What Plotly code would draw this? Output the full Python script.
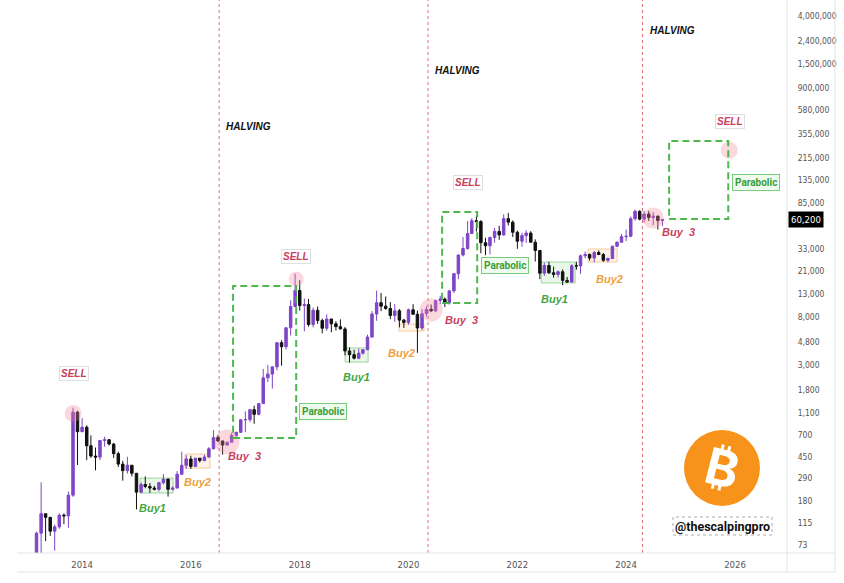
import numpy as np
import pandas as pd
import plotly.graph_objects as go
from datetime import datetime, timedelta

# ---------------- data (monthly BTC candles, Mar 2013 - Sep 2024) ----------------
months = pd.date_range("2013-03-01", "2024-09-01", freq="MS")

open_ = [34, 93, 139, 129, 97, 106, 135, 133, 204, 1130,
         755, 830, 565, 457, 447, 630, 640, 585, 480, 387, 338, 378,
         320, 217, 254, 244, 236, 230, 264, 284, 230, 236, 314, 377,
         430, 369, 437, 416, 448, 531, 670, 624, 573, 608, 700, 745,
         965, 970, 1190, 1080, 1350, 2300, 2480, 2875, 4740, 4360, 6450, 10000,
         13900, 10200, 10400, 6900, 9250, 7500, 6390, 7730, 7000, 6600, 6300, 4000,
         3700, 3440, 3820, 4100, 5320, 8570, 10820, 10080, 9600, 8300, 9150, 7550,
         7200, 9350, 8530, 6420, 8620, 9450, 9140, 11350, 11650, 10780, 13800, 19700,
         28950, 33100, 45100, 58800, 57700, 37300, 35000, 41500, 47100, 43800, 61300, 57000,
         46300, 38500, 43200, 45500, 37700, 31800, 19900, 23300, 20050, 19400, 20500, 17150,
         16550, 23150, 23130, 28500, 29250, 27200, 30500, 29250, 25950, 26950, 34650, 37700,
         42300, 42600, 61100, 71300, 60650, 67500, 62700, 64600, 58970]
high = [96, 266, 140, 129, 111, 140, 140, 220, 1242, 1165,
        1000, 860, 700, 545, 630, 680, 650, 600, 500, 415, 450, 380,
        320, 265, 300, 262, 247, 268, 315, 285, 245, 335, 500, 465,
        460, 440, 440, 470, 550, 780, 705, 627, 615, 740, 755, 975,
        1150, 1200, 1290, 1350, 2760, 3000, 2920, 4750, 4990, 6470, 11400, 19700,
        17200, 11800, 11700, 9800, 9990, 7780, 8500, 7760, 7400, 7680, 6550, 4300,
        4100, 4200, 4130, 5600, 9100, 13880, 13200, 12300, 10950, 10500, 9500, 7750,
        9600, 10500, 9200, 9470, 10080, 10430, 11450, 12470, 12050, 14100, 19900, 29300,
        41950, 58300, 61800, 64900, 59500, 41300, 42400, 50500, 52900, 67000, 69000, 59100,
        47900, 45800, 48200, 47400, 40000, 31900, 24700, 25200, 22800, 21000, 21450, 18400,
        23950, 25250, 29200, 31000, 29850, 31400, 31800, 30200, 27500, 35200, 38400, 44700,
        48950, 64000, 73800, 72800, 71950, 71900, 70000, 65100, 60600]
low = [33, 50, 79, 88, 65, 102, 112, 104, 197, 380,
       750, 420, 440, 340, 420, 555, 570, 440, 365, 275, 318, 300,
       152, 212, 235, 214, 225, 220, 255, 198, 225, 235, 310, 350,
       350, 365, 400, 410, 440, 525, 610, 470, 570, 605, 680, 740,
       750, 920, 890, 1060, 1350, 2100, 1840, 2680, 2950, 4110, 5500, 9900,
       9200, 6000, 6600, 6500, 7000, 5750, 6070, 5880, 6100, 6200, 3650, 3150,
       3350, 3370, 3700, 4080, 5300, 7450, 9100, 9350, 7700, 7300, 6500, 6430,
       6860, 8450, 3850, 6150, 8100, 8900, 8950, 10500, 9900, 10400, 13200, 17600,
       28100, 32300, 45000, 47000, 30000, 28800, 29300, 37300, 39600, 43300, 53300, 42000,
       32900, 34300, 37200, 37600, 25300, 17600, 18800, 19600, 18150, 18200, 15500, 16250,
       16500, 21350, 19600, 26950, 25800, 24800, 28900, 25200, 24900, 26550, 34100, 37600,
       38550, 41900, 59000, 59200, 56550, 58400, 53500, 49000, 52550]
close = [93, 139, 129, 97, 106, 135, 133, 204, 1130, 755,
         830, 565, 457, 447, 630, 640, 585, 480, 387, 338, 378, 320,
         217, 254, 244, 236, 230, 264, 284, 230, 236, 314, 377, 430,
         369, 437, 416, 448, 531, 670, 624, 573, 608, 700, 745, 965,
         970, 1190, 1080, 1350, 2300, 2480, 2875, 4740, 4360, 6450, 10000, 13900,
         10200, 10400, 6900, 9250, 7500, 6390, 7730, 7000, 6600, 6300, 4000, 3700,
         3440, 3820, 4100, 5320, 8570, 10820, 10080, 9600, 8300, 9150, 7550, 7200,
         9350, 8530, 6420, 8620, 9450, 9140, 11350, 11650, 10780, 13800, 19700, 28950,
         33100, 45100, 58800, 57700, 37300, 35000, 41500, 47100, 43800, 61300, 57000, 46300,
         38500, 43200, 45500, 37700, 31800, 19900, 23300, 20050, 19400, 20500, 17150, 16550,
         23150, 23130, 28500, 29250, 27200, 30500, 29250, 25950, 26950, 34650, 37700, 42300,
         42600, 61100, 71300, 60650, 67500, 62700, 64600, 58970, 60200]

last_price = 60200

# axis ticks (55,000 sits hidden under the last-price label in the reference)
y_ticks = [73, 115, 180, 290, 450, 700, 1100, 1800, 3000, 4800, 8000, 13000, 21000,
           33000, 85000, 135000, 215000, 355000, 580000, 900000, 1500000,
           2400000, 4000000]
x_tick_years = [2014, 2016, 2018, 2020, 2022, 2024, 2026]

# halvings
halving_dates = ["2016-07-09", "2020-05-11", "2024-04-20"]
halving_label_prices = [414000, 1315000, 3006000]

# hand-drawn annotations (fractional year, price)
sell_pts = [(2013.853, 2535), (2017.934, 28300), (2021.096, 128000), (2025.912, 459000)]
buy1_pts = [(2015.287, 156), (2019.037, 2333), (2022.676, 11670)]
buy2_pts = [(2016.114, 267), (2019.864, 3830), (2023.688, 17620)]
buy3_pts = [(2016.978, 457), (2020.967, 7570), (2024.956, 46560)]
parabolic_pts = [(2018.43, 1135), (2021.776, 23550), (2026.39, 128000)]
circle_years = [2013.835, 2016.665, 2017.934, 2020.415, 2024.496, 2025.893]
circle_prices = [1100, 611, 17620, 9310, 62100, 252000]
circle_sizes = [17, 25, 15, 23, 21, 17]
parabolic_boxes = [(2016.776, 664, 2017.934, 15290),
                   (2020.618, 10740, 2021.261, 70300),
                   (2024.79, 60800, 2025.875, 304000)]
buy1_boxes = [(2015.066, 213, 2015.673, 290), (2018.835, 3180, 2019.257, 4250),
              (2022.438, 16250, 2023.063, 25060)]
buy2_boxes = [(2015.893, 357, 2016.353, 476), (2019.827, 6030, 2020.287, 6970),
              (2023.301, 25060, 2023.835, 32750)]


def yd(yf):
    y = int(yf)
    return datetime(y, 1, 1) + timedelta(days=(yf - y) * 365.25)


PURPLE = "#7f45c8"
BLACK = "#111111"
RED = "#c9405f"
GREEN = "#44a644"
ORANGE = "#eda13c"
NARROW = "Liberation Sans Narrow, DejaVu Sans Condensed, Roboto Condensed, Roboto, sans-serif"

fig = go.Figure()
fig.add_trace(go.Candlestick(
    x=months, open=open_, high=high, low=low, close=close,
    increasing=dict(line=dict(color=PURPLE, width=1), fillcolor=PURPLE),
    decreasing=dict(line=dict(color=BLACK, width=1), fillcolor=BLACK),
    whiskerwidth=0, hoverinfo="skip", showlegend=False))

fig.add_trace(go.Scatter(
    x=[yd(v) for v in circle_years], y=circle_prices, mode="markers",
    marker=dict(size=circle_sizes, color="rgba(240,130,150,0.45)", line=dict(width=0)),
    hoverinfo="skip", showlegend=False))

shapes = []
for d in halving_dates:
    shapes.append(dict(type="line", xref="x", yref="paper", x0=d, x1=d, y0=0, y1=1,
                       line=dict(color="rgba(220,80,90,0.85)", width=1, dash="3px,3px"),
                       layer="below"))
for x0, y0, x1, y1 in parabolic_boxes:
    shapes.append(dict(type="rect", xref="x", yref="y", x0=yd(x0), x1=yd(x1), y0=y0, y1=y1,
                       line=dict(color="rgba(70,180,70,0.95)", width=2, dash="7px,4px")))
for x0, y0, x1, y1 in buy1_boxes:
    shapes.append(dict(type="rect", xref="x", yref="y", x0=yd(x0), x1=yd(x1), y0=y0, y1=y1,
                       line=dict(color="rgba(120,200,120,0.7)", width=1),
                       fillcolor="rgba(150,220,150,0.22)", layer="below"))
for x0, y0, x1, y1 in buy2_boxes:
    shapes.append(dict(type="rect", xref="x", yref="y", x0=yd(x0), x1=yd(x1), y0=y0, y1=y1,
                       line=dict(color="rgba(240,175,100,0.6)", width=1),
                       fillcolor="rgba(250,200,140,0.2)", layer="below"))

# frame lines (price scale panel / time scale strip)
W, H = 770.0, 553.0
xr = (835 - 17) / W
yb = -19 / H
frame = "#e4e4e4"
shapes += [
    dict(type="line", xref="paper", yref="paper", x0=0, x1=xr, y0=0, y1=0, line=dict(color=frame, width=1)),
    dict(type="line", xref="paper", yref="paper", x0=0, x1=xr, y0=yb, y1=yb, line=dict(color=frame, width=1)),
    dict(type="line", xref="paper", yref="paper", x0=1, x1=1, y0=yb, y1=1, line=dict(color=frame, width=1)),
    dict(type="line", xref="paper", yref="paper", x0=xr, x1=xr, y0=yb, y1=1, line=dict(color=frame, width=1)),
]
# bitcoin logo
lx, ly = (722 - 17) / W, (553 - 468) / H
shapes.append(dict(type="circle", xref="paper", yref="paper", xsizemode="pixel", ysizemode="pixel",
                   xanchor=lx, yanchor=ly, x0=-38, x1=38, y0=-38, y1=38,
                   fillcolor="#f7931a", line=dict(width=0)))
# handle box
shapes.append(dict(type="rect", xref="paper", yref="paper",
                   x0=(673 - 17) / W, x1=(772 - 17) / W, y0=(553 - 535) / H, y1=(553 - 517) / H,
                   line=dict(color="rgba(150,150,150,0.8)", width=1, dash="dot")))

ann = []
for (x, p) in sell_pts:
    ann.append(dict(x=yd(x), y=np.log10(p), text="<b><i>SELL</i></b>", showarrow=False,
                    font=dict(size=10, color=RED, family="Liberation Sans, Arial"),
                    bordercolor="rgba(200,200,200,0.6)", borderwidth=1, borderpad=1))
for (x, p) in buy1_pts:
    ann.append(dict(x=yd(x), y=np.log10(p), text="<b><i>Buy1</i></b>", showarrow=False,
                    font=dict(size=11, color=GREEN, family="Liberation Sans, Arial")))
for (x, p) in buy2_pts:
    ann.append(dict(x=yd(x), y=np.log10(p), text="<b><i>Buy2</i></b>", showarrow=False,
                    font=dict(size=11, color=ORANGE, family="Liberation Sans, Arial")))
for (x, p) in buy3_pts:
    ann.append(dict(x=yd(x), y=np.log10(p), text="<b><i>Buy  3</i></b>", showarrow=False,
                    font=dict(size=11, color=RED, family="Liberation Sans, Arial")))
for (x, p) in parabolic_pts:
    ann.append(dict(x=yd(x), y=np.log10(p), text="<b>Parabolic</b>", showarrow=False,
                    font=dict(size=10, color="#3a9e3a", family="Roboto, sans-serif"),
                    bgcolor="#eefbee", bordercolor="#79cc79", borderwidth=1, borderpad=2))
for d, p in zip(halving_dates, halving_label_prices):
    ann.append(dict(x=d, y=np.log10(p), text="<b><i>HALVING</i></b>", showarrow=False,
                    xanchor="left", xshift=5,
                    font=dict(size=10, color="#111111", family="Liberation Sans, Arial")))
ann.append(dict(xref="paper", yref="paper", x=lx, y=ly, xanchor="center", yanchor="middle",
                text="<b>₿</b>", showarrow=False, textangle=14,
                font=dict(size=50, color="white", family="Inter, Noto Sans, DejaVu Sans")))
ann.append(dict(xref="paper", yref="paper", x=(722 - 17) / W, y=(553 - 526) / H,
                xanchor="center", yanchor="middle",
                text="<b>@thescalpingpro</b>", showarrow=False,
                font=dict(size=12.5, color="#111111", family="Roboto, sans-serif")))
ann.append(dict(xref="paper", yref="y", x=1, xanchor="left", xshift=1, y=np.log10(last_price),
                text=f"{last_price:,}", showarrow=False, bgcolor="#000000", borderpad=2,
                font=dict(size=9.5, color="white", family=NARROW)))

fig.update_layout(
    width=844, height=583,
    margin=dict(l=17, r=57, t=0, b=30),
    paper_bgcolor="white", plot_bgcolor="white",
    showlegend=False, boxgap=0.15,
    shapes=shapes, annotations=ann,
    xaxis=dict(type="date", range=["2012-10-21", "2026-12-16"],
               rangeslider=dict(visible=False), showgrid=False, zeroline=False,
               showline=False,
               tickvals=[f"{y}-01-01" for y in x_tick_years],
               ticktext=[str(y) for y in x_tick_years],
               ticks="outside", ticklen=3, tickcolor="rgba(0,0,0,0)",
               tickfont=dict(size=9.5, color="#555555", family=NARROW)),
    yaxis=dict(type="log", side="right", range=[1.791, 6.747],
               showgrid=False, zeroline=False, showline=False,
               tickvals=y_ticks, ticktext=[f"{v:,}" for v in y_ticks],
               ticks="outside", ticklen=8, tickcolor="rgba(0,0,0,0)",
               tickfont=dict(size=8.5, color="#555555", family=NARROW)),
)

fig.write_html("out.html")
